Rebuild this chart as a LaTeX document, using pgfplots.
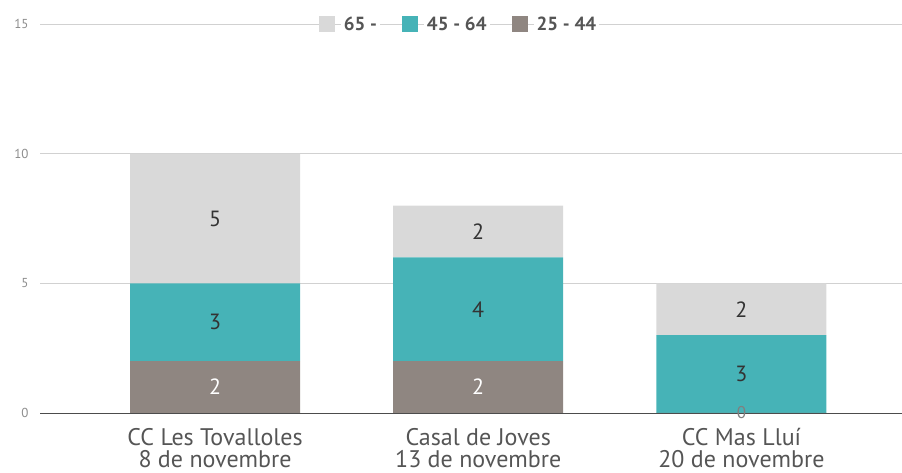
\documentclass[border=0pt]{standalone}
\usepackage{pgfplots}
\pgfplotsset{compat=1.18}
\usepackage{fontspec}
\setmainfont{PT Sans}
\definecolor{cA}{RGB}{217,217,217}
\definecolor{cB}{RGB}{70,179,183}
\definecolor{cC}{RGB}{143,134,129}
\definecolor{txt}{RGB}{85,85,85}
\begin{document}
\begin{tikzpicture}
\begin{axis}[
  set layers=standard, clip=false,
  scale only axis, width=862pt, height=389pt,
  xmin=-0.665, xmax=2.61, ymin=0, ymax=15,
  ybar stacked, bar width=170pt,
  axis x line=bottom, axis y line=left,
  axis line style={-},
  y axis line style={draw=none},
  x axis line style={black!70, line width=0.9pt},
  major tick length=0pt,
  xtick={0,1,2},
  xticklabels={CC Les Tovalloles\\8 de novembre, Casal de Joves\\13 de novembre, CC Mas Lluí\\20 de novembre},
  xticklabel style={align=center, text=txt, font=\fontsize{24}{22}\selectfont, yshift=-12pt},
  ytick={0,5,10,15},
  yticklabel style={text=gray!90, font=\fontsize{13}{14}\selectfont, xshift=-8pt},
  /pgf/number format/assume math mode=true,
  ymajorgrids, grid style={black!18, line width=0.7pt},
  point meta=explicit symbolic,
  nodes near coords,
  every node near coord/.append style={anchor=center, font=\fontsize{22}{22}\selectfont, text=black!80},
  legend columns=-1, reverse legend,
  legend style={at={(0.486,1.0)}, anchor=center, draw=none, fill=none,
    font=\fontsize{19}{20}\selectfont\bfseries, text=txt,
    nodes={fill=white, inner sep=3pt},
    /tikz/every odd column/.append style={column sep=6pt},
    /tikz/every even column/.append style={column sep=22pt}},
]
\addplot+[draw=none, fill=cC, mark layer=axis foreground,
  every node near coord/.append style={text=white},
  nodes near coords={\ifnum\pgfplotspointmeta=0 \textcolor{black!50}{\fontsize{17}{17}\selectfont 0}\else\pgfplotspointmeta\fi},
  legend image code/.code={\fill[cC] (0pt,-8pt) rectangle (16pt,8pt);}]
  coordinates {(0,2) [2] (1,2) [2] (2,0.001) [0]};
\addplot+[draw=none, fill=cB,
  legend image code/.code={\fill[cB] (0pt,-8pt) rectangle (16pt,8pt);}]
  coordinates {(0,3) [3] (1,4) [4] (2,3) [3]};
\addplot+[draw=none, fill=cA,
  legend image code/.code={\fill[cA] (0pt,-8pt) rectangle (16pt,8pt);}]
  coordinates {(0,5) [5] (1,2) [2] (2,2) [2]};
\legend{25 - 44, 45 - 64, 65 -}
\end{axis}
\pgfresetboundingbox
\path ([xshift=-40pt,yshift=-60pt]current axis.south west) rectangle ([yshift=24pt]current axis.north east);
\end{tikzpicture}
\end{document}
